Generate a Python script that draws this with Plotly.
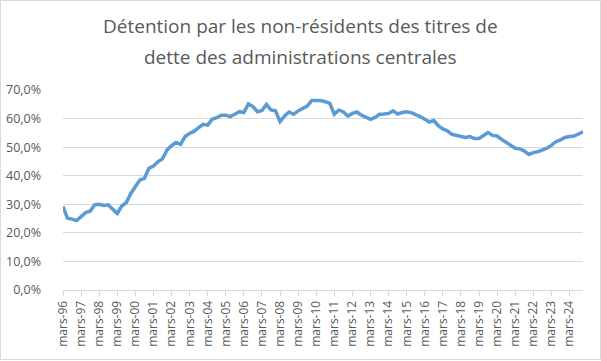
import plotly.graph_objects as go

# Quarterly observations, mars-96 .. déc-24
years = list(range(1996, 2025))
quarter_months = ["mars", "juin", "sept", "déc"]
categories = [f"{m}-{str(y)[2:]}" for y in years for m in quarter_months]

values = [
    29.2, 25.1, 24.8, 24.3, 25.7, 27.1, 27.6, 29.8, 30.0, 29.6, 29.8, 28.2,
    26.8, 29.4, 30.6, 33.8, 36.4, 38.5, 39.1, 42.6, 43.4, 44.9, 45.9, 49.0,
    50.5, 51.6, 51.0, 53.7, 54.8, 55.6, 56.8, 58.0, 57.7, 59.8, 60.3, 61.2,
    61.2, 60.7, 61.5, 62.4, 62.1, 65.1, 64.2, 62.4, 62.8, 65.0, 63.0, 62.7,
    58.9, 60.9, 62.3, 61.5, 62.7, 63.5, 64.4, 66.3, 66.3, 66.3, 65.9, 65.3,
    61.5, 63.0, 62.3, 60.9, 61.8, 62.3, 61.2, 60.3, 59.7, 60.4, 61.5, 61.6,
    61.8, 62.7, 61.6, 62.1, 62.4, 62.1, 61.5, 60.7, 59.8, 58.8, 59.3, 57.5,
    56.4, 55.7, 54.5, 54.1, 54.0, 53.4, 53.7, 53.0, 53.0, 53.9, 55.1, 54.1,
    53.9, 52.7, 51.6, 50.5, 49.6, 49.4, 48.7, 47.4, 48.1, 48.4, 49.0, 49.6,
    50.6, 51.9, 52.5, 53.4, 53.7, 53.9, 54.6, 55.4,
]

tick_labels = [f"mars-{str(y)[2:]}" for y in years]
y_ticks = [0, 10, 20, 30, 40, 50, 60, 70]
y_tick_labels = ["0,0%", "10,0%", "20,0%", "30,0%", "40,0%", "50,0%", "60,0%", "70,0%"]

title_lines = ["Détention par les non-résidents des titres de",
               "dette des administrations centrales"]

x_idx = list(range(len(values)))
tick_pos = [i for i, c in enumerate(categories) if c.startswith("mars-")]

fig = go.Figure()
fig.add_trace(go.Scatter(
    x=x_idx, y=values, mode="lines",
    line=dict(color="#5B9BD5", width=3.5),
    hoverinfo="skip",
))

W, H = 601, 361
L, R, T, B = 63, 18, 90, 71
pw, ph = W - L - R, H - T - B

font_family = "Open Sans"
grey = "#595959"

fig.update_layout(
    width=W, height=H,
    margin=dict(l=L, r=R, t=T, b=B, pad=0, autoexpand=False),
    paper_bgcolor="white", plot_bgcolor="white",
    showlegend=False,
    font=dict(family=font_family, color=grey, size=12),
)
fig.update_xaxes(
    range=[0, len(values) - 1], automargin=False,
    tickmode="array", tickvals=tick_pos, ticktext=tick_labels,
    tickangle=-90, ticks="outside", ticklen=5, tickcolor="#D9D9D9",
    showline=True, linecolor="#D9D9D9", linewidth=1,
    showgrid=False, zeroline=False,
    tickfont=dict(size=12, color=grey, family=font_family),
)
fig.update_yaxes(
    range=[0, 70], automargin=False,
    tickmode="array", tickvals=y_ticks, ticktext=y_tick_labels,
    showgrid=True, gridcolor="#D9D9D9", gridwidth=1,
    zeroline=False, showline=False, ticks="",
    ticklabelstandoff=21,
    tickfont=dict(size=12.5, color=grey, family=font_family),
)

def px_to_paper_x(px):
    return (px - L) / pw

def px_to_paper_y(py):
    return (H - B - py) / ph

for line, ypx in zip(title_lines, [26, 57]):
    fig.add_annotation(
        text=line, xref="paper", yref="paper",
        x=px_to_paper_x(300.5), y=px_to_paper_y(ypx),
        xanchor="center", yanchor="middle", showarrow=False,
        font=dict(family=font_family, size=19, color=grey),
    )

fig.add_shape(
    type="rect", xref="paper", yref="paper",
    x0=px_to_paper_x(0.5), x1=px_to_paper_x(600.5),
    y0=px_to_paper_y(359.5), y1=px_to_paper_y(0.5),
    line=dict(color="#D9D9D9", width=1), layer="below",
)

fig.write_html(
    "out.html",
    config={"displayModeBar": False},
    post_script="document.body.style.margin='0';document.body.style.overflow='hidden';",
)
